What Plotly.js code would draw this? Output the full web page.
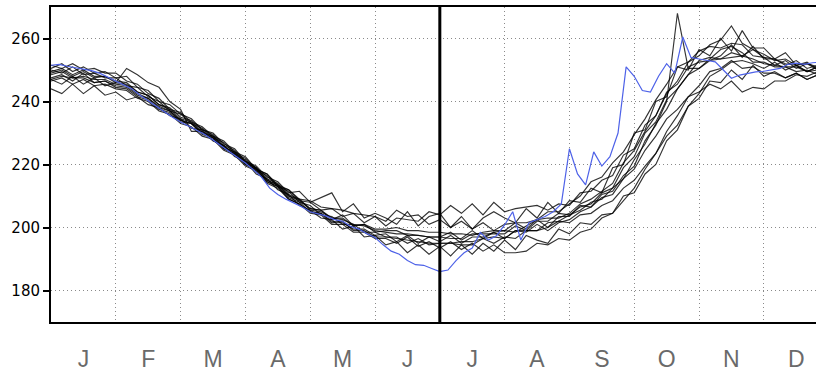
<!DOCTYPE html>
<html>
<head>
<meta charset="utf-8">
<script src="https://cdn.plot.ly/plotly-3.0.1.min.js"></script>
<style>
html,body{margin:0;padding:0;background:#fff;overflow:hidden;}
#chart{width:816px;height:374px;}
</style>
</head>
<body>
<div id="chart"></div>
<script>
// ---- data ----
const monthLabels = ['J','F','M','A','M','J','J','A','S','O','N','D'];
const monthCenters = [0.5,1.5,2.5,3.5,4.5,5.5,6.5,7.5,8.5,9.5,10.5,11.5];
const yTickVals = [180,200,220,240,260];
const markerMonth = 6;

// past years: 6 samples per month (x0 = 0, dx = 1/6 month)
const year01 = [250.5,252,249.5,251,249,249.5, 247.5,248,244.5,243.5,240,239, 236,234.5,231,230,226.5,225,
  221,219.5,216,214.5,211,211.5, 208,209.5,211,205,207.5,203, 204.5,203,201,205,200.5,203.5,
  204.5,200,203.5,199.5,203,205, 203,201.5,206,203,208,204.5, 208.5,208,212.5,211,219,220,
  230,231,240,241.5,251,250, 256.5,254.5,260,256,262.5,257, 257,253.5,255.5,251.5,252.5,250, 250.5];
const year02 = [244,242.5,245.5,242.5,245,242, 243,240.5,241.5,239,238,235.5, 234.5,231.5,231,227.5,226,222.5,
  221,217,215.5,212,210.5,207, 205.5,203,202.5,199.5,200.5,197, 197.5,194.5,195.5,192,194.5,191.5,
  194,191,194.5,191.5,195,192.5, 196,193,197.5,196,195,199.5, 198,201.5,201,204,204.5,210,
  211,217,220,227.5,231,238.5, 241,246.5,246,250,247,251.5, 248,249.5,247.5,249,247,248.5, 248];
const year03 = [247,245.5,248,245.5,247.5,245, 246,250.5,248.5,246,244.5,240, 237.5,230.5,230.5,227.5,226,223,
  221.5,218,216.5,213,212,208.5, 208,205.5,206,203.5,204.5,201.5, 203.5,200.5,203,202.5,202,205,
  204,207,204.5,207.5,204,208, 205,206,206.5,207,205.5,207.5, 207,211,211.5,215,216.5,223,
  225,232.5,235.5,243,245.5,251, 252.5,253,254.5,258,254,257.5, 253.5,253.5,252,251.5,249.5,250, 249.5];
const year04 = [249,250,248,249.5,247.5,248, 246,245.5,243,242,239,238, 235,234,231,229.5,226,224.5,
  221,219,215.5,214,210.5,209, 206,205.5,203,203,200.5,201, 198.5,199,199,197.5,197.5,197,
  197,196.5,196.5,199,196.5,198.5, 199,198.5,200.5,202.5,200,203.5, 203.5,207,206.5,210.5,211.5,216.5,
  219.5,227.5,232.5,240,268,250.5, 250.5,253.5,256.5,257.5,255.5,252.5, 252.5,251,251,249.5,250,248.5, 249];
const year05 = [247.5,248.5,246.5,249,246,246.5, 244.5,244,241.5,240.5,237.5,236.5, 233.5,233,230,228.5,225,223.5,
  220,218.5,214.5,213,209,207.5, 205,204.5,201.5,202,199,199, 197,197,196.5,196,195.5,195,
  195,195,195.5,195.5,196.5,197, 196.5,199,198.5,201,199,201.5, 202.5,205,206.5,209.5,210.5,215.5,
  218.5,224.5,229,234.5,237.5,241.5, 243,245.5,244,246.5,243,244.5, 244,246.5,246.5,248.5,248,249.5, 249];
const year06 = [248.5,249.5,247.5,248,247,247, 245.5,245,242.5,241,238.5,237, 234,233,230,229,225.5,224,
  220.5,219,215,213.5,210,209, 205.5,205,203,202.5,201,200.5, 199,198.5,198,198,197.5,197,
  197,198.5,196,198,198,198, 198,200.5,199,202,202,204.5, 204,206.5,207.5,211,212.5,219,
  222.5,230,233.5,240.5,244,248.5, 250.5,253,253.5,254,254.5,253.5, 252,251.5,251,251,249.5,251, 250];
const year07 = [250,249,251,248.5,249,247.5, 247.5,245,244.5,241.5,240,237, 236,233,231.5,228.5,227,223.5,
  222,218.5,217,213.5,212,209, 208.5,206.5,206,205.5,204.5,204, 203.5,202,205.5,203.5,204,201,
  202.5,200,202,199.5,201.5,199, 201,201.5,201.5,202.5,205,205, 207.5,210,214.5,216,220.5,224,
  229.5,234.5,240.5,245.5,251,252.5, 256,257.5,257,258.5,258,254.5, 254,251.5,253,250.5,252,250, 250.5];
const year08 = [246.5,247.5,245.5,247,245,245.5, 244,243.5,241,240,237,236, 233,232,229,228,224.5,223,
  219.5,218,214,212.5,209,207.5, 204.5,204,201,201,198.5,198.5, 196.5,196.5,195,197,194,195.5,
  193.5,195.5,193,195,192.5,194.5, 192,192,192.5,195,194.5,196.5, 196,198.5,199.5,203,204.5,208.5,
  212.5,218.5,223.5,230.5,235.5,241.5, 245,249.5,250.5,253,250.5,251, 249,249,247.5,249,247,248.5, 248];
const year09 = [249.5,250.5,248.5,250,248,248, 246.5,246,243,242,239,237.5, 234.5,233.5,230.5,229,225.5,224,
  220.5,219,215,213.5,210,208.5, 206,205.5,202.5,204,200.5,201, 199.5,199.5,200,199,199,198.5,
  198.5,198,198,197.5,198.5,199, 199,201.5,199.5,202.5,203,203, 204.5,207.5,209,211.5,214,220.5,
  224.5,230.5,235.5,242.5,246.5,252.5, 254.5,258,259.5,264,258.5,256.5, 254,253.5,251.5,253,250.5,251.5, 251];
const year10 = [247,248,247.5,247.5,246,246.5, 245,244.5,242,241,238,237, 234,233,229.5,228.5,225,223.5,
  220,218.5,214.5,213,209.5,208, 205,204.5,202,201.5,199.5,199.5, 197.5,198,195.5,197.5,195,197,
  195.5,197.5,195,197,197,198.5, 196.5,199,199,199,200,202, 201.5,204,204.5,207,208.5,212.5,
  215,219.5,223.5,229,232.5,238.5, 242.5,248,250,252.5,253,252, 250.5,252.5,250,251.5,249.5,251, 250.5];
const year11 = [251.5,250.5,252,250,250.5,249, 249,246.5,245.5,242.5,241,237.5, 236.5,233.5,232,229,227.5,224,
  222.5,218.5,217,213,211.5,208, 207,204,203.5,201,201,198.5, 198.5,197,197,195,196.5,194.5,
  195,195,194.5,194.5,196.5,195, 197,196.5,199,199,201.5,202, 204,205.5,208,209,212.5,215.5,
  221.5,226.5,233,237.5,244,248.5, 253,254,253.5,255.5,254.5,256.5, 255,253,253.5,251.5,252,251, 252];

// current year: 8 samples per month (x0 = 0, dx = 1/8 month)
const currentYear = [251.5,251.8,251.2,250.8,250.3,249.8,249.0,247.8,
  246.5,245.2,244.0,242.0,240.2,238.5,236.8,235.0,
  233.5,232.2,231.0,229.5,227.8,226.0,224.2,222.5,
  220.5,218.3,216.0,212.5,210.5,209.0,207.8,206.5,
  205.0,204.2,203.6,202.5,202.0,200.3,199.5,198.0,
  196.8,194.5,192.5,191.5,189.5,188.2,188.0,187.0,
  186.0,186.5,189.5,192.0,193.5,198.4,196.0,197.4,
  200.8,205.0,196.0,201.5,202.6,203.5,205.0,207.5,
  225.0,217.0,213.5,224.0,219.5,222.5,230.0,251.0,
  248.0,243.5,243.0,248.0,252.0,249.0,260.5,254.0,
  253.5,253.0,252.6,250.0,247.4,248.4,249.0,249.4,
  249.6,250.0,250.5,251.8,252.2,251.8,252.3,252.5,
  252.6];

const pastYears = [year01,year02,year03,year04,year05,year06,year07,year08,year09,year10,year11];

// ---- traces ----
const traces = pastYears.map(ys => ({
  type: 'scatter', mode: 'lines', y: ys, x0: 0, dx: 1/6,
  line: {color: 'rgba(0,0,0,0.8)', width: 1.15},
  hoverinfo: 'skip', showlegend: false
}));
traces.push({
  type: 'scatter', mode: 'lines', y: currentYear, x0: 0, dx: 1/8,
  line: {color: 'rgb(78,98,232)', width: 1.2},
  hoverinfo: 'skip', showlegend: false
});

const gridDash = '1px,3px';
const layout = {
  width: 816, height: 374,
  margin: {l: 51, r: 0, t: 7, b: 52, pad: 0},
  paper_bgcolor: '#fff', plot_bgcolor: '#fff',
  showlegend: false,
  xaxis: {
    range: [0, 11.805], fixedrange: true,
    tickmode: 'array', tickvals: monthCenters, ticktext: monthLabels,
    showgrid: false, zeroline: false,
    showline: true, linecolor: '#000', linewidth: 2, mirror: true,
    ticks: 'outside', ticklen: 15, tickcolor: 'rgba(0,0,0,0)',
    tickfont: {family: 'Liberation Sans, Arial, sans-serif', size: 23, color: '#6a6a6a'},
    minor: {tick0: 0, dtick: 1, showgrid: true, gridcolor: '#8a8a8a', gridwidth: 1, griddash: gridDash, ticks: ''}
  },
  yaxis: {
    range: [170, 270], fixedrange: true,
    tickmode: 'array', tickvals: yTickVals,
    showgrid: true, gridcolor: '#8a8a8a', gridwidth: 1, griddash: gridDash,
    zeroline: false,
    showline: true, linecolor: '#000', linewidth: 2,
    ticks: 'outside', ticklen: 6, tickwidth: 2, tickcolor: '#000',
    tickfont: {family: 'DejaVu Sans, sans-serif', size: 15, color: '#000'}
  },
  shapes: [{
    type: 'line', xref: 'x', yref: 'paper',
    x0: markerMonth, x1: markerMonth, y0: 0, y1: 1,
    line: {color: '#000', width: 3}
  }]
};

Plotly.newPlot('chart', traces, layout, {displayModeBar: false, staticPlot: true});
</script>
</body>
</html>
